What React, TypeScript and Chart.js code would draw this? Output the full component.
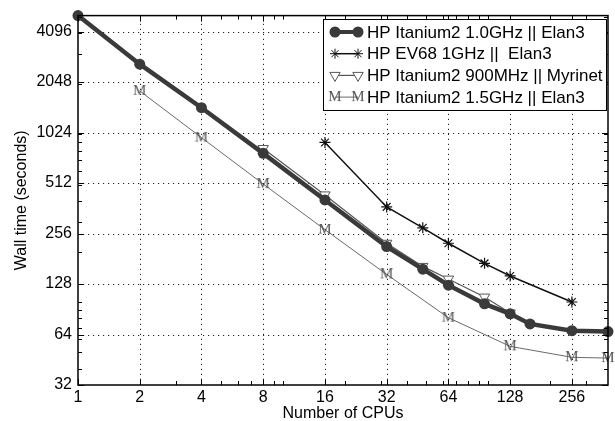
import React, { useEffect, useRef } from 'react';
import { Chart, registerables } from 'chart.js';

Chart.register(...registerables);

const FONT = "'Liberation Sans', Arial, Helvetica, sans-serif";

const xTicks = [1, 2, 4, 8, 16, 32, 64, 128, 256];
const yTicks = [32, 64, 128, 256, 512, 1024, 2048, 4096];
const X_MIN = 1;
const X_MAX = 384;
const Y_MIN = 32;
const Y_MAX = 5100;

const cpusItanium10 = [1, 2, 4, 8, 16, 32, 48, 64, 96, 128, 160, 256, 384];
const timeItanium10 = [5100, 2617, 1440, 770, 406, 214, 157, 126, 97.5, 85, 74, 67.5, 66.6];

const cpusEV68 = [16, 32, 48, 64, 96, 128, 256];
const timeEV68 = [894, 369, 277, 224, 170, 143, 100];

const cpusItanium900 = [8, 16, 32, 48, 64, 96, 128];
const timeItanium900 = [822, 435, 224, 163, 137, 107, 86];

const cpusItanium15 = [2, 4, 8, 16, 32, 64, 128, 256, 384];
const timeItanium15 = [1813, 955, 505, 270, 146, 80.6, 54.4, 46.8, 46.3];

const seriesLabels = [
  'HP Itanium2 1.0GHz || Elan3',
  'HP EV68 1GHz ||  Elan3',
  'HP Itanium2 900MHz || Myrinet',
  'HP Itanium2 1.5GHz || Elan3',
];

const xTitle = 'Number of CPUs';
const yTitle = 'Wall time (seconds)';

function toPoints(xs: number[], ys: number[]) {
  return xs.map((x, i) => ({ x, y: ys[i] }));
}

function minorValues(min: number, max: number) {
  const out: number[] = [];
  for (let p = 1; p <= 100000; p *= 10) {
    for (let m = 1; m <= 9; m++) {
      const v = m * p;
      if (v > min && v < max) out.push(v);
    }
  }
  return out;
}

function makeMCanvas() {
  const c = document.createElement('canvas');
  c.width = 14;
  c.height = 12;
  const ctx = c.getContext('2d')!;
  ctx.fillStyle = '#555';
  ctx.font = "15px 'Liberation Serif', 'DejaVu Serif', serif";
  ctx.textAlign = 'center';
  ctx.textBaseline = 'middle';
  ctx.fillText('M', 7, 6.5);
  return c;
}

function drawStar(ctx: CanvasRenderingContext2D, x: number, y: number, r: number) {
  const d = r * Math.SQRT1_2;
  ctx.beginPath();
  ctx.moveTo(x - r, y); ctx.lineTo(x + r, y);
  ctx.moveTo(x, y - r); ctx.lineTo(x, y + r);
  ctx.moveTo(x - d, y - d); ctx.lineTo(x + d, y + d);
  ctx.moveTo(x - d, y + d); ctx.lineTo(x + d, y - d);
  ctx.stroke();
}

function drawTriDown(ctx: CanvasRenderingContext2D, x: number, y: number, r: number) {
  ctx.beginPath();
  ctx.moveTo(x, y + r);
  ctx.lineTo(x - r * 0.866, y - r * 0.5);
  ctx.lineTo(x + r * 0.866, y - r * 0.5);
  ctx.closePath();
  ctx.fill();
  ctx.stroke();
}

export default function App() {
  const ref = useRef<HTMLCanvasElement | null>(null);

  useEffect(() => {
    document.body.style.margin = '0';
    const canvas = ref.current;
    if (!canvas) return;
    const mCanvas = makeMCanvas();

    const framePlugin = {
      id: 'matlabFrame',
      beforeDatasetsDraw(chart: any) {
        const { ctx, chartArea: a, scales } = chart;
        ctx.save();
        ctx.strokeStyle = '#222';
        ctx.lineWidth = 1;
        ctx.setLineDash([1.2, 3.8]);
        xTicks.forEach((v) => {
          if (v <= X_MIN || v >= X_MAX) return;
          const px = Math.round(scales.x.getPixelForValue(v)) + 0.5;
          ctx.beginPath();
          ctx.moveTo(px, a.bottom);
          ctx.lineTo(px, a.top);
          ctx.stroke();
        });
        yTicks.forEach((v) => {
          if (v <= Y_MIN || v >= Y_MAX) return;
          const py = Math.round(scales.y.getPixelForValue(v)) + 0.5;
          ctx.beginPath();
          ctx.moveTo(a.left, py);
          ctx.lineTo(a.right, py);
          ctx.stroke();
        });
        ctx.restore();
      },
      afterDatasetsDraw(chart: any) {
        const { ctx, chartArea: a, scales } = chart;
        ctx.save();
        ctx.setLineDash([]);
        ctx.strokeStyle = '#000';
        ctx.lineWidth = 1;
        const tick = (v: number, len: number, isX: boolean) => {
          ctx.beginPath();
          if (isX) {
            const px = Math.round(scales.x.getPixelForValue(v)) + 0.5;
            ctx.moveTo(px, a.bottom); ctx.lineTo(px, a.bottom - len);
            ctx.moveTo(px, a.top); ctx.lineTo(px, a.top + len);
          } else {
            const py = Math.round(scales.y.getPixelForValue(v)) + 0.5;
            ctx.moveTo(a.left, py); ctx.lineTo(a.left + len, py);
            ctx.moveTo(a.right, py); ctx.lineTo(a.right - len, py);
          }
          ctx.stroke();
        };
        minorValues(X_MIN, X_MAX).forEach((v) => tick(v, 4, true));
        minorValues(Y_MIN, Y_MAX).forEach((v) => tick(v, 4, false));
        xTicks.forEach((v) => tick(v, 6, true));
        yTicks.forEach((v) => tick(v, 6, false));
        ctx.lineWidth = 1.5;
        ctx.strokeRect(a.left, a.top, a.right - a.left, a.bottom - a.top);

        // legend box
        const bx = 323, by = 19, bw = 283, bh = 91;
        ctx.fillStyle = '#fff';
        ctx.fillRect(bx, by, bw, bh);
        ctx.lineWidth = 1;
        ctx.strokeStyle = '#000';
        ctx.strokeRect(bx + 0.5, by + 0.5, bw, bh);

        const rows = [32, 53.7, 75.4, 97.1];
        const x1 = 335, x2 = 358;
        ctx.font = `17px ${FONT}`;
        ctx.textBaseline = 'middle';
        ctx.textAlign = 'left';
        rows.forEach((ry, i) => {
          ctx.save();
          if (i === 0) {
            ctx.strokeStyle = '#3a3a3a';
            ctx.fillStyle = '#3a3a3a';
            ctx.lineWidth = 4;
            ctx.beginPath(); ctx.moveTo(x1, ry); ctx.lineTo(x2, ry); ctx.stroke();
            [x1, x2].forEach((mx) => { ctx.beginPath(); ctx.arc(mx, ry, 5.5, 0, Math.PI * 2); ctx.fill(); });
          } else if (i === 1) {
            ctx.strokeStyle = '#111';
            ctx.lineWidth = 1.5;
            ctx.beginPath(); ctx.moveTo(x1, ry); ctx.lineTo(x2, ry); ctx.stroke();
            ctx.lineWidth = 1;
            [x1, x2].forEach((mx) => drawStar(ctx, mx, ry, 5));
          } else if (i === 2) {
            ctx.strokeStyle = '#555';
            ctx.fillStyle = '#fff';
            ctx.lineWidth = 1.2;
            ctx.beginPath(); ctx.moveTo(x1, ry); ctx.lineTo(x2, ry); ctx.stroke();
            ctx.lineWidth = 1;
            [x1, x2].forEach((mx) => drawTriDown(ctx, mx, ry, 6));
          } else {
            ctx.strokeStyle = '#444';
            ctx.lineWidth = 0.8;
            ctx.beginPath(); ctx.moveTo(x1, ry); ctx.lineTo(x2, ry); ctx.stroke();
            [x1, x2].forEach((mx) => ctx.drawImage(mCanvas, mx - 7, ry - 6));
          }
          ctx.restore();
          ctx.fillStyle = '#000';
          ctx.fillText(seriesLabels[i], 367, ry + 1);
        });
        ctx.restore();
      },
    };

    const chart = new Chart(canvas, {
      type: 'line',
      data: {
        datasets: [
          {
            label: seriesLabels[0],
            data: toPoints(cpusItanium10, timeItanium10),
            borderColor: '#3a3a3a',
            backgroundColor: '#3a3a3a',
            borderWidth: 4.5,
            pointStyle: 'circle',
            pointRadius: 5.5,
            pointBorderWidth: 0,
            pointBackgroundColor: '#3a3a3a',
            clip: false,
          },
          {
            label: seriesLabels[1],
            data: toPoints(cpusEV68, timeEV68),
            borderColor: '#111',
            borderWidth: 1.5,
            pointStyle: 'star',
            pointRadius: 5.5,
            pointBorderWidth: 1.2,
            pointBorderColor: '#111',
            clip: false,
          },
          {
            label: seriesLabels[2],
            data: toPoints(cpusItanium900, timeItanium900),
            borderColor: '#555',
            borderWidth: 1.2,
            pointStyle: 'triangle',
            rotation: 180,
            pointRadius: 6,
            pointBackgroundColor: '#fff',
            pointBorderColor: '#555',
            pointBorderWidth: 1,
            clip: false,
          },
          {
            label: seriesLabels[3],
            data: toPoints(cpusItanium15, timeItanium15),
            borderColor: '#444',
            borderWidth: 0.8,
            pointStyle: mCanvas as any,
            pointRadius: 6,
            clip: false,
          },
        ],
      },
      options: {
        animation: false,
        responsive: false,
        devicePixelRatio: 1,
        layout: { padding: { top: 13, right: 7, left: 0, bottom: 0 } },
        plugins: { legend: { display: false }, tooltip: { enabled: false } },
        elements: { line: { tension: 0 } },
        scales: {
          x: {
            type: 'logarithmic',
            min: X_MIN,
            max: X_MAX,
            position: 'bottom',
            afterBuildTicks: (s: any) => { s.ticks = xTicks.map((v) => ({ value: v })); },
            afterFit: (s: any) => { s.height = 36; },
            grid: { display: false, drawTicks: false },
            border: { display: false },
            ticks: {
              autoSkip: false,
              maxRotation: 0,
              padding: 3,
              color: '#000',
              font: { family: FONT, size: 16 },
              callback: (v: any) => String(v),
            },
            title: {
              display: true,
              text: xTitle,
              color: '#000',
              font: { family: FONT, size: 16, lineHeight: 1 },
              padding: { top: 0, bottom: -1 },
            },
          },
          y: {
            type: 'logarithmic',
            min: Y_MIN,
            max: Y_MAX,
            position: 'left',
            afterBuildTicks: (s: any) => { s.ticks = yTicks.map((v) => ({ value: v })); },
            afterFit: (s: any) => { s.width = 78; },
            grid: { display: false, drawTicks: false },
            border: { display: false },
            ticks: {
              autoSkip: false,
              padding: 6,
              color: '#000',
              font: { family: FONT, size: 16 },
              callback: (v: any) => String(v),
            },
            title: {
              display: true,
              text: yTitle,
              color: '#000',
              font: { family: FONT, size: 16, lineHeight: 1 },
              padding: { top: 14, bottom: 0 },
            },
          },
        },
      },
      plugins: [framePlugin],
    });

    return () => chart.destroy();
  }, []);

  return (
    <div style={{ width: 615, height: 421, position: 'relative', background: '#fff' }}>
      <canvas ref={ref} width={615} height={421} style={{ display: 'block' }} />
    </div>
  );
}
